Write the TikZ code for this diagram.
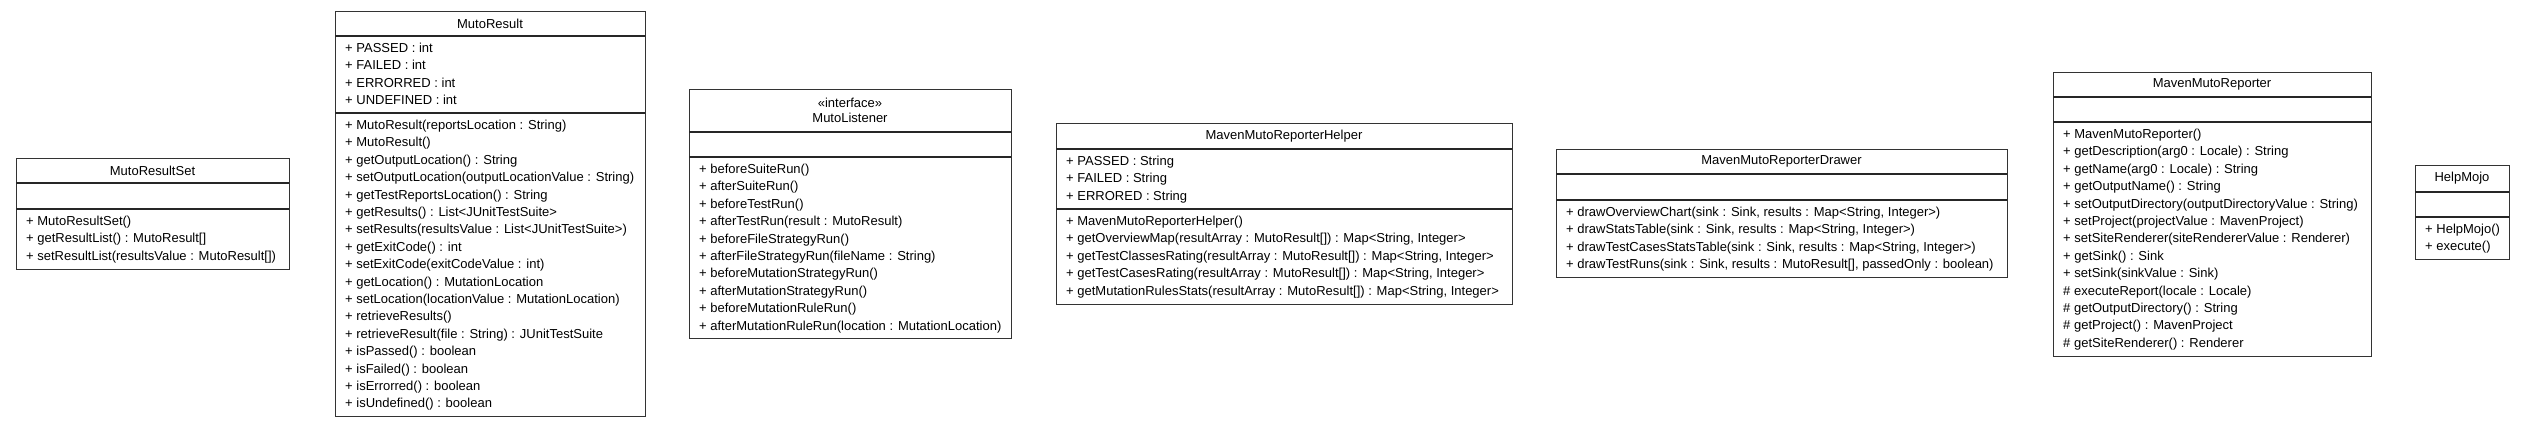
\documentclass[tikz,border=0pt]{standalone}
\usepackage{fontspec}
\setmainfont{Liberation Sans}
\usepackage{tikz}

\begin{document}
\begin{tikzpicture}[
    x=1pt, y=-1pt,
    font=\fontsize{13}{17.4}\selectfont,
    cls/.style={draw=black!80, line width=1.2pt, fill=white, anchor=north west,
                inner sep=0pt},
    sep/.style={draw=black!85, line width=1.6pt},
    ttl/.style={inner sep=0pt, align=center},
    mem/.style={inner sep=0pt, anchor=base west},
  ]
  \useasboundingbox (0,0) rectangle (2525,427);

  %% ---- MutoResultSet -------------------------------------------------
  \node[cls, minimum width=273pt, minimum height=111pt] (rs) at (16,158) {};
  \draw[sep] (16,183) -- (289,183);
  \draw[sep] (16,209) -- (289,209);
  \node[ttl] (rsT) at (152.5,170.5) {MutoResultSet};
  \foreach \t [count=\i from 0] in {
      {+ MutoResultSet()},
      {+ getResultList() : MutoResult[]},
      {+ setResultList(resultsValue : MutoResult[])}}
    \node[mem] (rsM\i) at (26,225.5+17.4*\i) {\t};

  %% ---- MutoResult ----------------------------------------------------
  \node[cls, minimum width=310pt, minimum height=405pt] (mr) at (335,11) {};
  \draw[sep] (335,36) -- (645,36);
  \draw[sep] (335,113) -- (645,113);
  \node[ttl] (mrT) at (490,23.5) {MutoResult};
  \foreach \t [count=\i from 0] in {
      {+ PASSED : int}, {+ FAILED : int},
      {+ ERRORRED : int}, {+ UNDEFINED : int}}
    \node[mem] (mrA\i) at (345,52.5+17.4*\i) {\t};
  \foreach \t [count=\i from 0] in {
      {+ MutoResult(reportsLocation : String)},
      {+ MutoResult()},
      {+ getOutputLocation() : String},
      {+ setOutputLocation(outputLocationValue : String)},
      {+ getTestReportsLocation() : String},
      {+ getResults() : List<JUnitTestSuite>},
      {+ setResults(resultsValue : List<JUnitTestSuite>)},
      {+ getExitCode() : int},
      {+ setExitCode(exitCodeValue : int)},
      {+ getLocation() : MutationLocation},
      {+ setLocation(locationValue : MutationLocation)},
      {+ retrieveResults()},
      {+ retrieveResult(file : String) : JUnitTestSuite},
      {+ isPassed() : boolean},
      {+ isFailed() : boolean},
      {+ isErrorred() : boolean},
      {+ isUndefined() : boolean}}
    \node[mem] (mrM\i) at (345,129.5+17.4*\i) {\t};

  %% ---- MutoListener --------------------------------------------------
  \node[cls, minimum width=322pt, minimum height=249pt] (ml) at (689,89) {};
  \draw[sep] (689,132) -- (1011,132);
  \draw[sep] (689,157) -- (1011,157);
  \node[ttl, font=\fontsize{13}{15.6}\selectfont] (mlT) at (850,110.5)
    {«interface»\\ MutoListener};
  \foreach \t [count=\i from 0] in {
      {+ beforeSuiteRun()},
      {+ afterSuiteRun()},
      {+ beforeTestRun()},
      {+ afterTestRun(result : MutoResult)},
      {+ beforeFileStrategyRun()},
      {+ afterFileStrategyRun(fileName : String)},
      {+ beforeMutationStrategyRun()},
      {+ afterMutationStrategyRun()},
      {+ beforeMutationRuleRun()},
      {+ afterMutationRuleRun(location : MutationLocation)}}
    \node[mem] (mlM\i) at (699,173.5+17.4*\i) {\t};

  %% ---- MavenMutoReporterHelper ---------------------------------------
  \node[cls, minimum width=456pt, minimum height=181pt] (hp) at (1056,123) {};
  \draw[sep] (1056,149) -- (1512,149);
  \draw[sep] (1056,209) -- (1512,209);
  \node[ttl] (hpT) at (1284,136) {MavenMutoReporterHelper};
  \foreach \t [count=\i from 0] in {
      {+ PASSED : String}, {+ FAILED : String}, {+ ERRORED : String}}
    \node[mem] (hpA\i) at (1066,165.5+17.4*\i) {\t};
  \foreach \t [count=\i from 0] in {
      {+ MavenMutoReporterHelper()},
      {+ getOverviewMap(resultArray : MutoResult[]) : Map<String, Integer>},
      {+ getTestClassesRating(resultArray : MutoResult[]) : Map<String, Integer>},
      {+ getTestCasesRating(resultArray : MutoResult[]) : Map<String, Integer>},
      {+ getMutationRulesStats(resultArray : MutoResult[]) : Map<String, Integer>}}
    \node[mem] (hpM\i) at (1066,225.5+17.4*\i) {\t};

  %% ---- MavenMutoReporterDrawer ---------------------------------------
  \node[cls, minimum width=451pt, minimum height=128pt] (dr) at (1556,149) {};
  \draw[sep] (1556,174) -- (2007,174);
  \draw[sep] (1556,200) -- (2007,200);
  \node[ttl] (drT) at (1781.5,161.5) {MavenMutoReporterDrawer};
  \foreach \t [count=\i from 0] in {
      {+ drawOverviewChart(sink : Sink, results : Map<String, Integer>)},
      {+ drawStatsTable(sink : Sink, results : Map<String, Integer>)},
      {+ drawTestCasesStatsTable(sink : Sink, results : Map<String, Integer>)},
      {+ drawTestRuns(sink : Sink, results : MutoResult[], passedOnly : boolean)}}
    \node[mem] (drM\i) at (1566,216.5+17.4*\i) {\t};

  %% ---- MavenMutoReporter ---------------------------------------------
  \node[cls, minimum width=318pt, minimum height=284pt] (mmr) at (2053,72) {};
  \draw[sep] (2053,97) -- (2371,97);
  \draw[sep] (2053,122) -- (2371,122);
  \node[ttl] (mmrT) at (2212,84.5) {MavenMutoReporter};
  \foreach \t [count=\i from 0] in {
      {+ MavenMutoReporter()},
      {+ getDescription(arg0 : Locale) : String},
      {+ getName(arg0 : Locale) : String},
      {+ getOutputName() : String},
      {+ setOutputDirectory(outputDirectoryValue : String)},
      {+ setProject(projectValue : MavenProject)},
      {+ setSiteRenderer(siteRendererValue : Renderer)},
      {+ getSink() : Sink},
      {+ setSink(sinkValue : Sink)},
      {\# executeReport(locale : Locale)},
      {\# getOutputDirectory() : String},
      {\# getProject() : MavenProject},
      {\# getSiteRenderer() : Renderer}}
    \node[mem] (mmrM\i) at (2063,138.5+17.4*\i) {\t};

  %% ---- HelpMojo ------------------------------------------------------
  \node[cls, minimum width=94pt, minimum height=94pt] (hm) at (2415,165) {};
  \draw[sep] (2415,192) -- (2509,192);
  \draw[sep] (2415,217) -- (2509,217);
  \node[ttl] (hmT) at (2462,178.5) {HelpMojo};
  \foreach \t [count=\i from 0] in {{+ HelpMojo()}, {+ execute()}}
    \node[mem] (hmM\i) at (2425,233.5+17.4*\i) {\t};

\end{tikzpicture}
\end{document}
